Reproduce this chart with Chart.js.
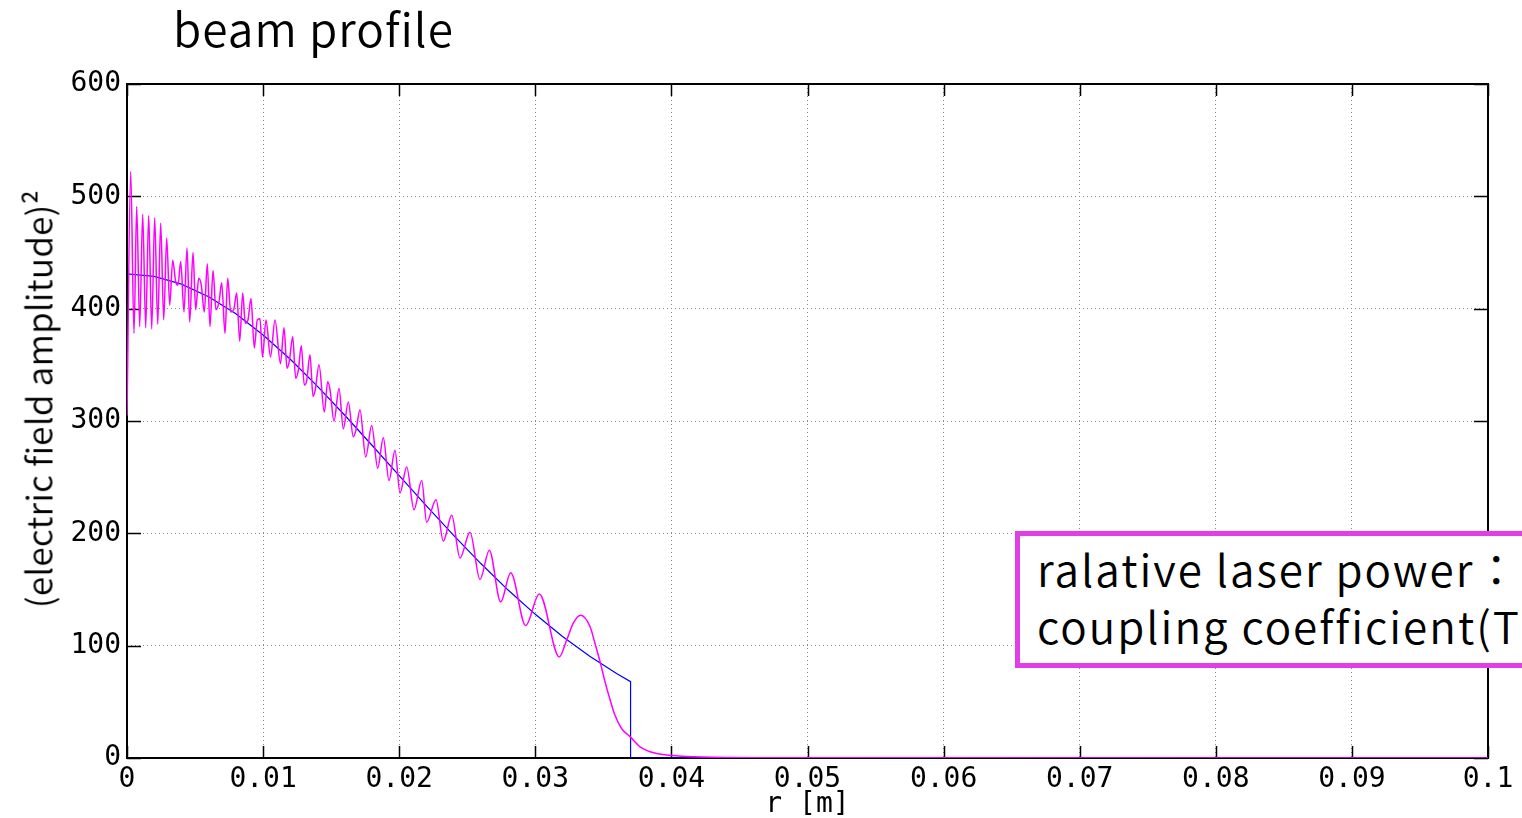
<!DOCTYPE html>
<html>
<head>
<meta charset="utf-8">
<script src="https://cdn.jsdelivr.net/npm/chart.js"></script>
<style>
  html, body { margin: 0; padding: 0; background: #fff; overflow: hidden; }
  #wrap { position: relative; width: 1522px; height: 818px; overflow: hidden; }
  #title { position: absolute; left: 173px; top: -6px; font: 350 46px "Noto Sans CJK JP"; letter-spacing: 1px;
           color: #000; white-space: nowrap; }
  #ylabel { position: absolute; left: 37px; top: 399px; font: 350 35px "Noto Sans CJK JP"; letter-spacing: 0.3px; color: #000;
            white-space: nowrap; transform: translate(-50%, -50%) rotate(-90deg); }
  #note { position: absolute; left: 1015px; top: 531px; width: 600px; height: 137px; border: 5px solid #e23ee8;
          background: #fff; font: 350 44px "Noto Sans CJK JP"; letter-spacing: 2px; line-height: 57px; color: #000;
          padding: 4px 0 0 17px; box-sizing: border-box; white-space: nowrap; }
</style>
</head>
<body>
<div id="wrap">
  <canvas id="myChart" width="1522" height="818"></canvas>
  <div id="title">beam profile</div>
  <div id="ylabel">(electric field amplitude)²</div>
  <div id="note">ralative laser power：<br>coupling coefficient(TE</div>
</div>
<script>
const ctx = document.getElementById("myChart");

// x tick positions and labels
const xTicks = [0, 0.01, 0.02, 0.03, 0.04, 0.05, 0.06, 0.07, 0.08, 0.09, 0.1];
const xTickLabels = ["0", "0.01", "0.02", "0.03", "0.04", "0.05", "0.06", "0.07", "0.08", "0.09", "0.1"];
const yTicks = [0, 100, 200, 300, 400, 500, 600];

// smooth (gaussian) profile, blue
const blueR = [0, 0.002, 0.004, 0.006, 0.008, 0.010, 0.012, 0.014, 0.016, 0.018, 0.020,
  0.022, 0.024, 0.026, 0.028, 0.030, 0.032, 0.034, 0.036, 0.037, 0.037, 0.1];
const blueV = [431, 428.7, 421.8, 410.6, 395.4, 376.6, 355.0, 330.8, 305.1, 278.4, 251.3,
  224.4, 198.2, 173.1, 149.5, 127.9, 108.2, 90.6, 75.0, 68.0, 0, 0];

// diffracted profile, magenta
const magR = [0, 0.000272, 0.000514, 0.000713, 0.000933, 0.001154, 0.001374, 0.001594, 0.001815, 0.002035,
  0.002256, 0.002476, 0.002697, 0.002917, 0.003137, 0.003358, 0.003578, 0.003747, 0.003946, 0.004188,
  0.004409, 0.004607, 0.004849, 0.005048, 0.005268, 0.005459, 0.005680, 0.005900, 0.006098, 0.006319,
  0.006539, 0.006760, 0.006958, 0.007201, 0.007399, 0.007619, 0.007840, 0.008060, 0.008281, 0.008501,
  0.008692, 0.008891, 0.009111, 0.009353, 0.009574, 0.009772, 0.009956, 0.010213, 0.010544, 0.010874,
  0.011278, 0.011536, 0.011756, 0.011925, 0.012175, 0.012395, 0.012586, 0.012807, 0.013027, 0.013204,
  0.013446, 0.013667, 0.013835, 0.014107, 0.014497, 0.014747, 0.014916, 0.015209, 0.015577, 0.015893,
  0.016260, 0.016628, 0.016826, 0.017120, 0.017539, 0.017980, 0.018421, 0.018832, 0.019251, 0.019691,
  0.020059, 0.020551, 0.021087, 0.021653, 0.022020, 0.022704, 0.023240, 0.023858, 0.024467, 0.025202,
  0.025937, 0.026620, 0.027458, 0.028192, 0.029295, 0.030294, 0.031764, 0.032307, 0.032792, 0.033336,
  0.034019, 0.034387, 0.034754, 0.035121, 0.035489, 0.035856, 0.036349, 0.036959, 0.037693, 0.038920,
  0.039897, 0.041587, 0.05, 0.1];
const magV = [305, 522, 378, 491, 384, 484, 383, 483, 382, 481,
  386, 476, 390, 463, 403, 443, 424, 421, 442, 397,
  454, 388, 450, 399, 427, 421, 397, 440, 384, 434,
  399, 406, 423, 378, 427, 397, 399, 414, 371, 414,
  387, 390, 409, 365, 390, 391, 357, 390, 357, 390,
  351, 383, 347, 353, 375, 338, 345, 367, 332, 336,
  359, 322, 328, 350, 308, 335, 328, 300, 329, 293,
  317, 286, 292, 310, 268, 296, 258, 285, 247, 274,
  236, 259, 221, 247, 210, 230, 193, 216, 178, 201,
  159, 185, 139, 165, 118, 146, 90, 105, 120, 127,
  117, 102, 86, 68, 52, 38, 26, 19, 10, 4,
  2.5, 1.2, 0.2, 0];

const toPoints = (rs, vs) => rs.map((r, i) => ({ x: r, y: vs[i] }));

const monoFont = { family: "DejaVu Sans Mono", size: 28 };

// frame with inward ticks, like the original plot
const framePlugin = {
  id: "frame",
  beforeDatasetsDraw(chart) {
    const { ctx: c, chartArea: a, scales } = chart;
    c.save();
    c.strokeStyle = "#000";
    c.lineWidth = 1.5;
    xTicks.forEach((v) => {
      const px = Math.round(scales.x.getPixelForValue(v)) + 0.5;
      c.beginPath();
      c.moveTo(px, a.bottom); c.lineTo(px, a.bottom - 12);
      c.moveTo(px, a.top); c.lineTo(px, a.top + 12);
      c.stroke();
    });
    yTicks.forEach((v) => {
      const py = Math.round(scales.y.getPixelForValue(v)) + 0.5;
      c.beginPath();
      c.moveTo(a.left, py); c.lineTo(a.left + 14, py);
      c.moveTo(a.right, py); c.lineTo(a.right - 14, py);
      c.stroke();
    });
    c.lineWidth = 2;
    c.strokeRect(a.left, a.top, a.right - a.left, a.bottom - a.top);
    c.restore();
  },
};

new Chart(ctx, {
  type: "line",
  data: {
    datasets: [
      {
        label: "diffracted",
        data: toPoints(magR, magV),
        borderColor: "#ff00ff",
        borderWidth: 1.5,
        pointRadius: 0,
        cubicInterpolationMode: "monotone",
        fill: false,
      },
      {
        label: "gaussian",
        data: toPoints(blueR, blueV),
        borderColor: "#0000ff",
        borderWidth: 1.2,
        pointRadius: 0,
        tension: 0,
        fill: false,
      },
    ],
  },
  options: {
    responsive: false,
    animation: false,
    layout: { padding: { left: 0, right: 34, top: 84, bottom: 0 } },
    plugins: { legend: { display: false }, tooltip: { enabled: false } },
    scales: {
      x: {
        type: "linear",
        min: 0,
        max: 0.1,
        afterBuildTicks: (s) => { s.ticks = xTicks.map((v) => ({ value: v })); },
        afterFit: (s) => { s.height = 60; },
        ticks: {
          color: "#000",
          font: monoFont,
          padding: 5,
          maxRotation: 0,
          autoSkip: false,
          callback: (v, i) => xTickLabels[i],
        },
        grid: { color: "#8a8a8a", lineWidth: 1, drawTicks: false },
        border: { display: false, dash: [1, 3] },
        title: { display: true, text: "r [m]", color: "#000", font: monoFont, padding: { top: 0, bottom: -4 } },
      },
      y: {
        type: "linear",
        min: 0,
        max: 600,
        afterBuildTicks: (s) => { s.ticks = yTicks.map((v) => ({ value: v })); },
        afterFit: (s) => { s.width = 127; },
        ticks: { color: "#000", font: monoFont, padding: 6 },
        grid: { color: "#8a8a8a", lineWidth: 1, drawTicks: false },
        border: { display: false, dash: [1, 3] },
      },
    },
  },
  plugins: [framePlugin],
});
</script>
</body>
</html>
